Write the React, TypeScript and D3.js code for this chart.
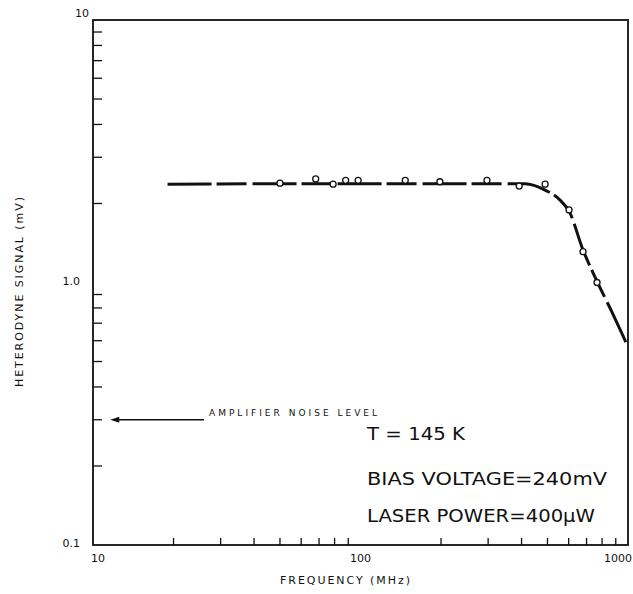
import React from 'react'
import * as d3 from 'd3'

// measured points (MHz, mV)
const freqPts = [50, 68, 79, 88, 98, 147, 198, 297, 392, 490, 602, 679, 766]
const sigPts = [2.39, 2.48, 2.37, 2.45, 2.45, 2.45, 2.42, 2.45, 2.33, 2.37, 1.89, 1.31, 1.0]

// hand-drawn response curve
const curveFreq = [19, 100, 200, 412, 490, 557, 602, 679, 766, 872, 984]
const curveSig = [2.37, 2.38, 2.38, 2.38, 2.25, 2.06, 1.87, 1.33, 1.01, 0.77, 0.59]

const noiseLevel = 0.3
const noiseArrow = [26, 11.6]

const xTickLabels = ['10', '100', '1000']
const yTickLabels = ['10', '1.0', '0.1']
const notes = ['T = 145 K', 'BIAS VOLTAGE=240mV', 'LASER POWER=400\u00b5W']
const noteWidths = [98, 240, 228]

const W = 633
const H = 594
const m = { left: 93, right: 628, top: 20, bottom: 545 }

const App: React.FC = () => {
    const x = d3.scaleLog().domain([10, 1000]).range([m.left, m.right])
    const y = d3.scaleLog().domain([0.1, 10]).range([m.bottom, m.top])

    const minorTicks: number[] = []
    for (const dec of [1, 10]) for (let k = 2; k <= 9; k++) minorTicks.push(k * dec)

    const line = d3
        .line<number>()
        .x((_, i) => x(curveFreq[i]))
        .y((_, i) => y(curveSig[i]))
        .curve(d3.curveMonotoneX)

    const font = "'DejaVu Sans', sans-serif"
    const ay = y(noiseLevel)

    return (
        <svg
            width={W}
            height={H}
            style={{ position: 'absolute', left: 0, top: 0, background: '#fff' }}
        >
            {/* frame */}
            <rect
                x={m.left}
                y={m.top}
                width={m.right - m.left}
                height={m.bottom - m.top}
                fill="none"
                stroke="#111"
                strokeWidth={1.8}
            />
            {/* y minor ticks (inside) */}
            {minorTicks.map((v) => (
                <line
                    key={'y' + v}
                    x1={m.left}
                    x2={m.left + 9}
                    y1={y(v / 10)}
                    y2={y(v / 10)}
                    stroke="#111"
                    strokeWidth={1.3}
                />
            ))}
            {/* x minor ticks (inside) */}
            {minorTicks.map((v) => (
                <line
                    key={'x' + v}
                    x1={x(v * 10)}
                    x2={x(v * 10)}
                    y1={m.bottom}
                    y2={m.bottom - 7}
                    stroke="#111"
                    strokeWidth={1.3}
                />
            ))}
            {/* tick labels */}
            {xTickLabels.map((t) => (
                <text
                    key={t}
                    x={t === '1000' ? 632 : x(+t) + (t === '10' ? 5 : 0)}
                    y={562}
                    textAnchor={t === '1000' ? 'end' : 'middle'}
                    fontFamily={font}
                    fontSize={11}
                    fill="#111"
                >
                    {t}
                </text>
            ))}
            {yTickLabels.map((t) => (
                <text
                    key={t}
                    x={t === '10' ? 89 : 80}
                    y={y(+t) + (t === '10' ? -3 : 2)}
                    textAnchor="end"
                    fontFamily={font}
                    fontSize={11}
                    fill="#111"
                >
                    {t}
                </text>
            ))}
            {/* axis titles */}
            <text
                x={345}
                y={584}
                textAnchor="middle"
                fontFamily={font}
                fontSize={11}
                textLength={130}
                lengthAdjust="spacing"
                fill="#111"
            >
                FREQUENCY (MHz)
            </text>
            <text
                transform={`translate(23,292) rotate(-90)`}
                textAnchor="middle"
                fontFamily={font}
                fontSize={11}
                textLength={190}
                lengthAdjust="spacing"
                fill="#111"
            >
                HETERODYNE SIGNAL (mV)
            </text>
            {/* response curve */}
            <path
                d={line(curveFreq) || ''}
                fill="none"
                stroke="#111"
                strokeWidth={3}
                strokeDasharray="44 5 30 6"
                strokeLinecap="butt"
            />
            {/* data points */}
            {freqPts.map((f, i) => (
                <circle
                    key={f}
                    cx={x(f)}
                    cy={y(sigPts[i])}
                    r={3}
                    fill="#fff"
                    stroke="#111"
                    strokeWidth={1.3}
                />
            ))}
            {/* amplifier noise arrow */}
            <line
                x1={x(noiseArrow[0])}
                x2={x(noiseArrow[1]) + 6}
                y1={ay}
                y2={ay}
                stroke="#111"
                strokeWidth={1.3}
            />
            <path
                d={`M${x(noiseArrow[1])},${ay} l9,-3 l0,6 z`}
                fill="#111"
            />
            <text
                x={209}
                y={416}
                fontFamily={font}
                fontSize={9}
                textLength={168}
                lengthAdjust="spacing"
                fill="#111"
            >
                AMPLIFIER NOISE LEVEL
            </text>
            {/* notes */}
            {notes.map((t, i) => (
                <text
                    key={t}
                    x={367}
                    y={[440, 485, 522][i]}
                    fontFamily={font}
                    fontSize={18.5}
                    textLength={noteWidths[i]}
                    lengthAdjust="spacingAndGlyphs"
                    fill="#111"
                >
                    {t}
                </text>
            ))}
        </svg>
    )
}

export default App
